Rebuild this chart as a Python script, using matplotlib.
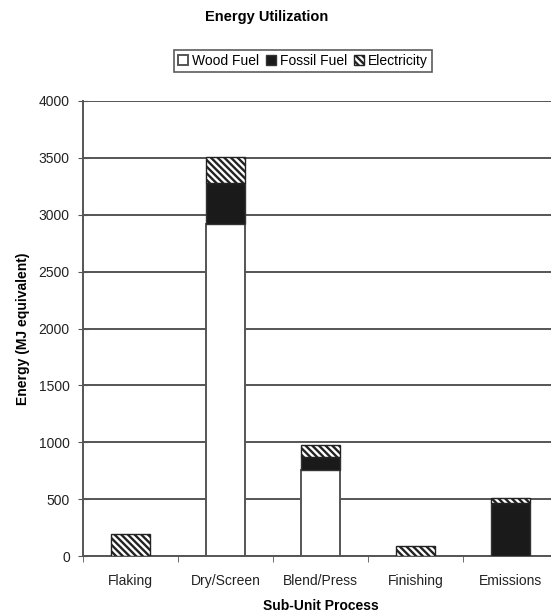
import numpy as np
import matplotlib
matplotlib.use("Agg")
import matplotlib.pyplot as plt

plt.rcParams['font.family'] = ['Liberation Sans', 'DejaVu Sans']
plt.rcParams['hatch.linewidth'] = 1.7

categorias = ["Flaking", "Dry/Screen", "Blend/Press", "Finishing", "Emissions"]
wood = [0, 2920, 760, 0, 0]
fossil = [0, 360, 110, 0, 470]
electricity = [190, 230, 110, 90, 40]

W, H = 551, 616
fig = plt.figure(figsize=(W/100, H/100), dpi=100)
ax = fig.add_axes([83/W, 1-556/H, 475/W, 455/H])

x = np.arange(len(categorias))
wood = np.array(wood)
fossil = np.array(fossil)
electricity = np.array(electricity)
ancho = 0.41
edge = "#555555"

ax.bar(x, wood, ancho, color="white", edgecolor=edge, linewidth=1.4, label="Wood Fuel", zorder=3)
ax.bar(x, fossil, ancho, bottom=wood, color="#1a1a1a", edgecolor="#333333", linewidth=1.0, label="Fossil Fuel", zorder=3)
ax.bar(x, electricity, ancho, bottom=wood+fossil, color="white", edgecolor="#222222",
       hatch="\\" * 5, linewidth=1.0, label="Electricity", zorder=3)

ax.set_xlim(-0.5, 4.5)
ax.set_ylim(0, 4000)
ax.set_yticks(np.arange(0, 4001, 500))
ax.yaxis.grid(True, color="#555555", linewidth=1.4, zorder=0)
ax.set_axisbelow(True)

ax.set_xticks(x)
ax.set_xticklabels(categorias, fontsize=10, color="#222222")
ax.set_xticks(np.arange(-0.5, 4.6, 1), minor=True)
ax.tick_params(axis="x", which="major", length=0, pad=13)
ax.tick_params(axis="x", which="minor", length=4, direction="out", color="#555555")
ax.tick_params(axis="y", length=7, direction="inout", labelsize=10, color="#555555", labelcolor="#222222", pad=6)

for s in ["top", "right"]:
    ax.spines[s].set_visible(False)
ax.spines["left"].set_color("#555555")
ax.spines["left"].set_linewidth(1.4)
ax.spines["bottom"].set_color("#555555")
ax.spines["bottom"].set_linewidth(1.4)

ax.set_ylabel("Energy (MJ equivalent)", fontsize=10, fontweight="bold", labelpad=6)
ax.set_xlabel("Sub-Unit Process", fontsize=10, fontweight="bold", labelpad=8)

fig.text(267/W, 1-17/H, "Energy Utilization", ha="center", va="center", fontsize=10.5, fontweight="bold")

leg = fig.legend(loc="center", bbox_to_anchor=(303/W, 1-61/H), ncol=3, fontsize=10,
                 frameon=True, fancybox=False, handlelength=0.7, handleheight=0.7,
                 handletextpad=0.3, columnspacing=0.5, borderpad=0.3, borderaxespad=0)
leg.get_frame().set_edgecolor("#333333")
leg.get_frame().set_linewidth(1.2)

plt.savefig("out.png", dpi=100)
